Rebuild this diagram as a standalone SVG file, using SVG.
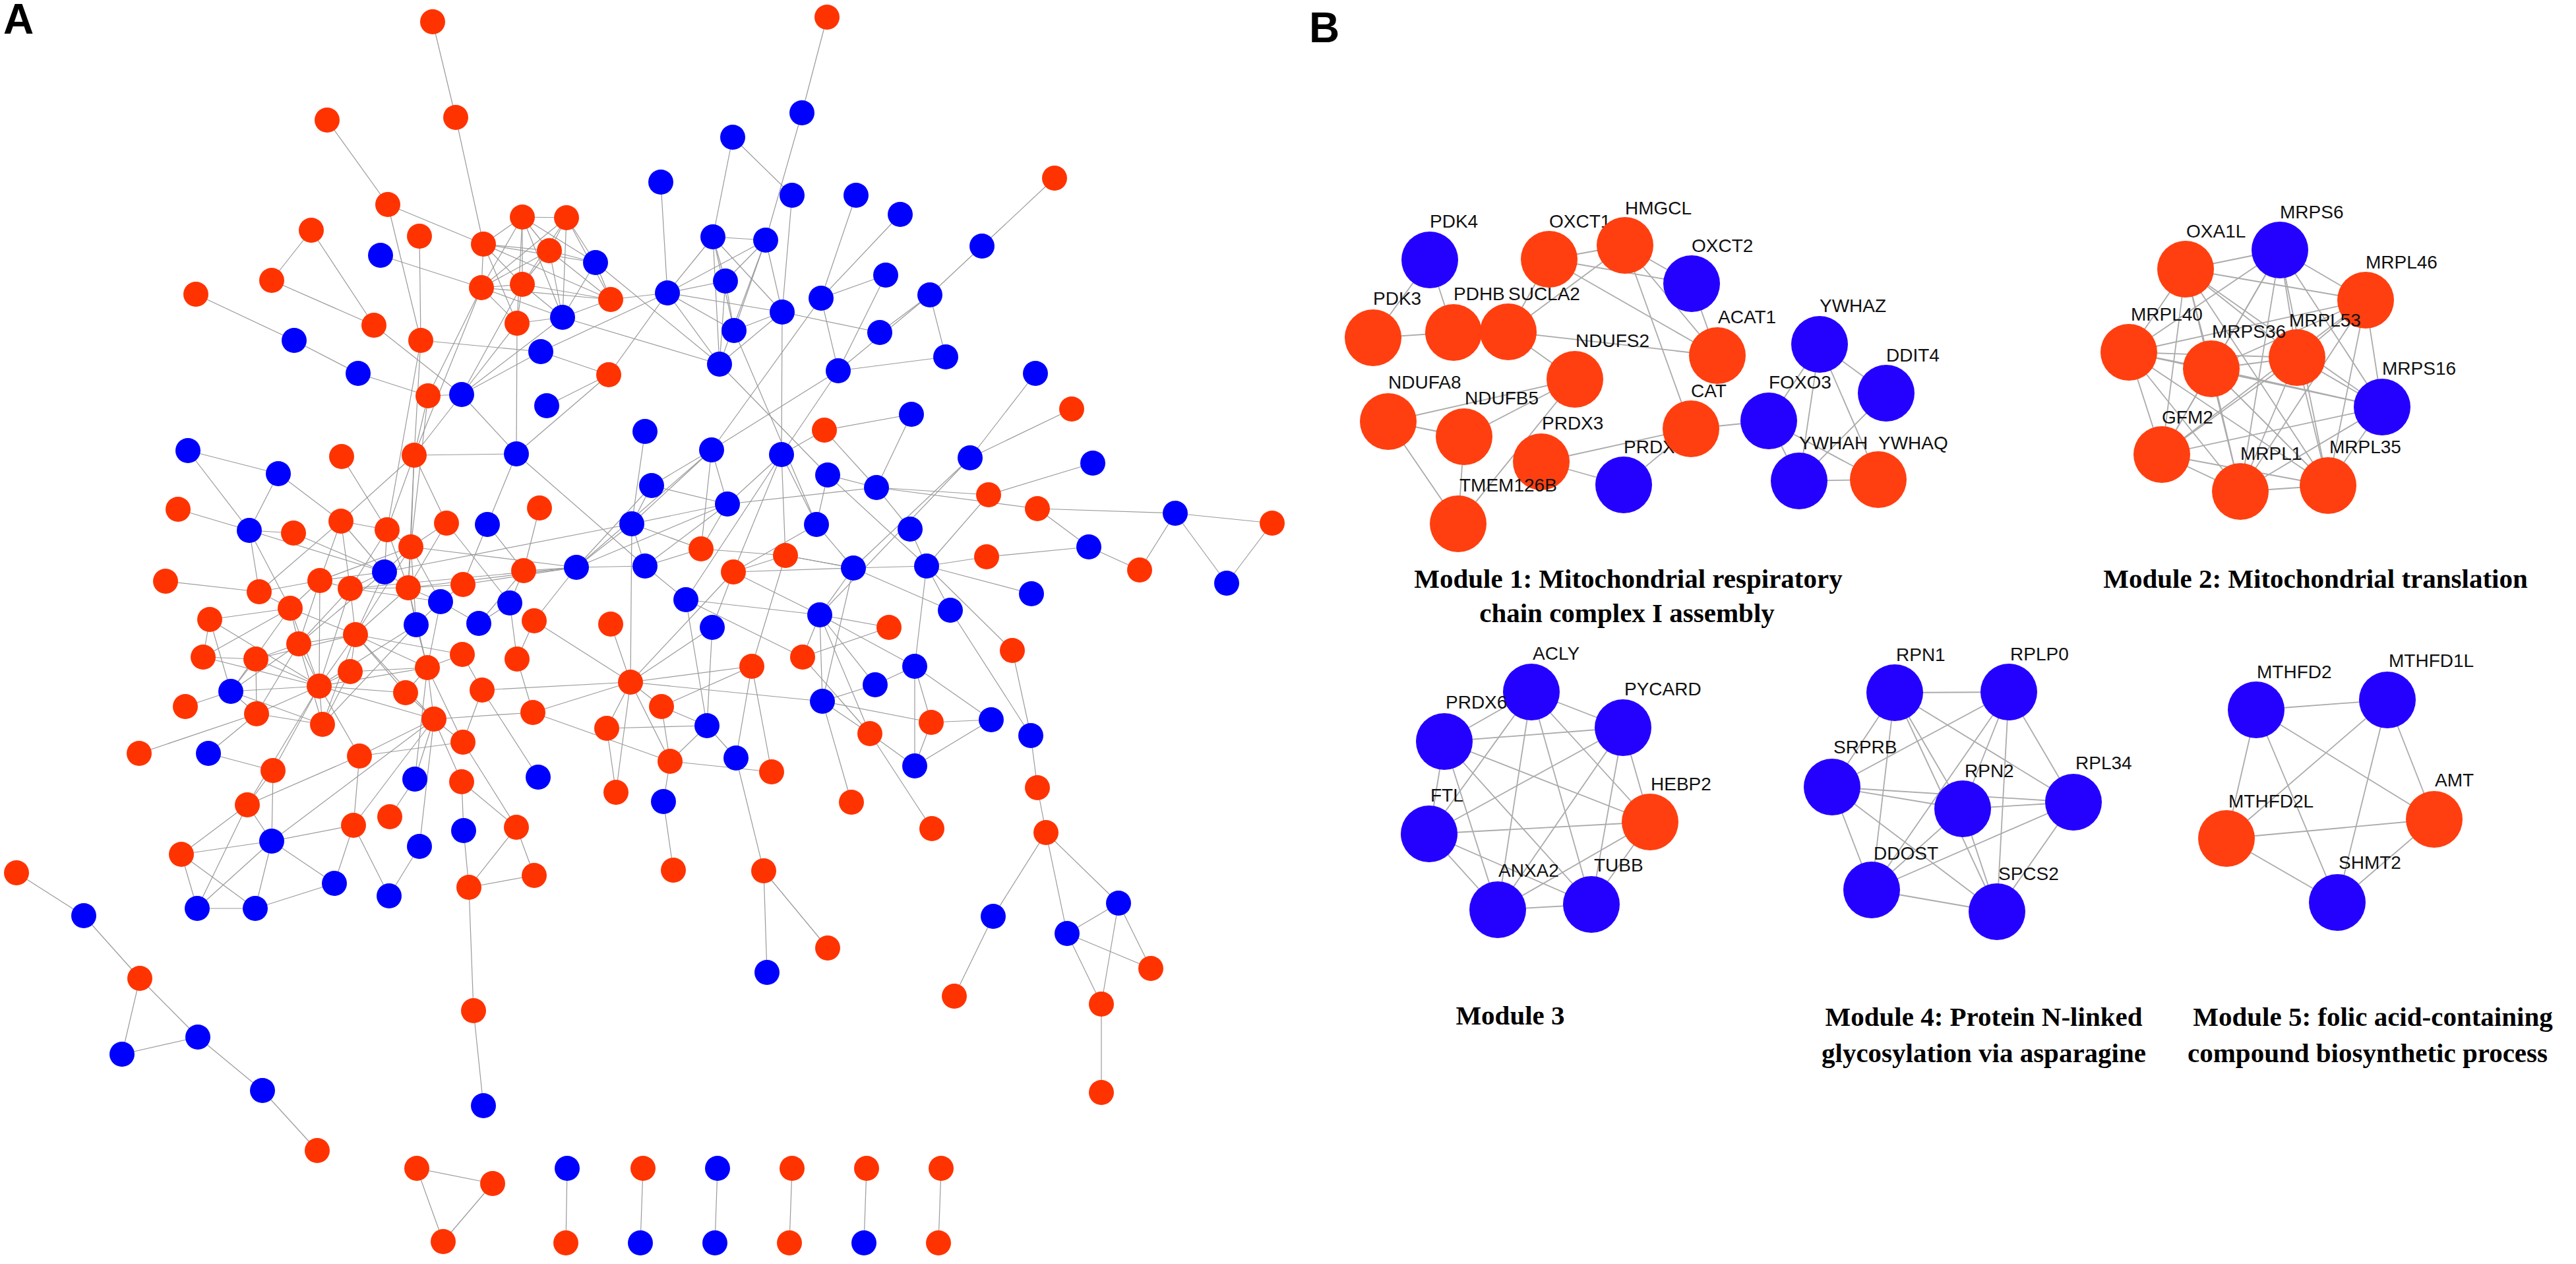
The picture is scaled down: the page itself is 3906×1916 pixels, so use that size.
<svg xmlns="http://www.w3.org/2000/svg" width="3906" height="1916" viewBox="0 0 3906 1916">
<style>
.e line{stroke:#9a9a9a;stroke-width:1.2}
.eb line{stroke:#ababab;stroke-width:1.8}
.r{fill:#FF3300}
.b{fill:#0000FF}
.rb{fill:#FF3F10}
.bb{fill:#2400FF}
.lb{font-family:"Liberation Sans",Arial,sans-serif;font-size:28px;fill:#111}
.cap{font-family:"Liberation Serif","Times New Roman",serif;font-weight:bold;font-size:41px;fill:#000;text-anchor:middle}
.pl{font-family:"Liberation Sans",Arial,sans-serif;font-weight:bold;font-size:64px;fill:#000}
</style>
<rect width="3906" height="1916" fill="#fff"/>
<text class="pl" x="5" y="51">A</text>
<text class="pl" x="1985" y="64">B</text>
<g id="connectors-A" class="e">
<line x1="656" y1="33" x2="691" y2="178"/><line x1="691" y1="178" x2="733" y2="370"/><line x1="496" y1="182" x2="588" y2="310"/><line x1="588" y1="310" x2="733" y2="370"/><line x1="588" y1="310" x2="638" y2="516"/><line x1="472" y1="349" x2="412" y2="425"/><line x1="472" y1="349" x2="567" y2="493"/><line x1="412" y1="425" x2="567" y2="493"/><line x1="636" y1="358" x2="638" y2="516"/><line x1="577" y1="387" x2="730" y2="436"/><line x1="297" y1="446" x2="446" y2="516"/><line x1="446" y1="516" x2="543" y2="566"/><line x1="543" y1="566" x2="649" y2="600"/><line x1="567" y1="493" x2="700" y2="598"/><line x1="638" y1="516" x2="820" y2="533"/><line x1="638" y1="516" x2="628" y2="690"/><line x1="649" y1="600" x2="628" y2="690"/><line x1="649" y1="600" x2="730" y2="436"/><line x1="649" y1="600" x2="700" y2="598"/><line x1="700" y1="598" x2="628" y2="690"/><line x1="700" y1="598" x2="783" y2="688"/><line x1="700" y1="598" x2="820" y2="533"/><line x1="700" y1="598" x2="853" y2="481"/><line x1="285" y1="683" x2="422" y2="718"/><line x1="285" y1="683" x2="378" y2="804"/>
<line x1="1254" y1="26" x2="1216" y2="171"/><line x1="1216" y1="171" x2="1161" y2="364"/><line x1="1111" y1="208" x2="1201" y2="296"/><line x1="1111" y1="208" x2="1081" y2="359"/><line x1="1002" y1="276" x2="1012" y2="444"/><line x1="1201" y1="296" x2="1186" y2="473"/><line x1="1298" y1="296" x2="1245" y2="452"/><line x1="1081" y1="359" x2="1161" y2="364"/><line x1="1081" y1="359" x2="1100" y2="426"/><line x1="1081" y1="359" x2="1113" y2="501"/><line x1="1081" y1="359" x2="1012" y2="444"/><line x1="1081" y1="359" x2="1186" y2="473"/><line x1="1081" y1="359" x2="1091" y2="552"/><line x1="1161" y1="364" x2="1012" y2="444"/><line x1="1161" y1="364" x2="1100" y2="426"/><line x1="1161" y1="364" x2="1186" y2="473"/><line x1="1161" y1="364" x2="1113" y2="501"/><line x1="1161" y1="364" x2="1091" y2="552"/><line x1="1100" y1="426" x2="1012" y2="444"/><line x1="1100" y1="426" x2="1113" y2="501"/><line x1="1100" y1="426" x2="1091" y2="552"/><line x1="1012" y1="444" x2="1186" y2="473"/><line x1="1012" y1="444" x2="1113" y2="501"/><line x1="1012" y1="444" x2="1091" y2="552"/><line x1="1012" y1="444" x2="820" y2="533"/><line x1="1012" y1="444" x2="923" y2="568"/><line x1="1186" y1="473" x2="1334" y2="504"/><line x1="1186" y1="473" x2="1113" y2="501"/><line x1="1186" y1="473" x2="1091" y2="552"/><line x1="1186" y1="473" x2="1185" y2="689"/><line x1="1245" y1="452" x2="1271" y2="562"/><line x1="1245" y1="452" x2="1365" y2="325"/><line x1="1245" y1="452" x2="1343" y2="417"/><line x1="1245" y1="452" x2="1079" y2="682"/><line x1="1091" y1="552" x2="1255" y2="720"/><line x1="1113" y1="501" x2="1238" y2="795"/><line x1="1271" y1="562" x2="1185" y2="689"/><line x1="1271" y1="562" x2="1079" y2="682"/><line x1="1250" y1="652" x2="1185" y2="689"/><line x1="1250" y1="652" x2="1382" y2="628"/><line x1="903" y1="398" x2="1091" y2="552"/><line x1="853" y1="481" x2="1091" y2="552"/><line x1="820" y1="533" x2="923" y2="568"/><line x1="784" y1="490" x2="783" y2="688"/><line x1="829" y1="615" x2="923" y2="568"/><line x1="783" y1="688" x2="923" y2="568"/><line x1="783" y1="688" x2="628" y2="690"/><line x1="730" y1="436" x2="628" y2="690"/><line x1="792" y1="431" x2="700" y2="598"/><line x1="784" y1="490" x2="700" y2="598"/>
<line x1="792" y1="329" x2="859" y2="330"/><line x1="792" y1="329" x2="733" y2="370"/><line x1="792" y1="329" x2="833" y2="380"/><line x1="792" y1="329" x2="903" y2="398"/><line x1="792" y1="329" x2="730" y2="436"/><line x1="792" y1="329" x2="792" y2="431"/><line x1="792" y1="329" x2="853" y2="481"/><line x1="792" y1="329" x2="784" y2="490"/><line x1="859" y1="330" x2="833" y2="380"/><line x1="859" y1="330" x2="903" y2="398"/><line x1="859" y1="330" x2="730" y2="436"/><line x1="859" y1="330" x2="792" y2="431"/><line x1="859" y1="330" x2="926" y2="454"/><line x1="859" y1="330" x2="853" y2="481"/><line x1="733" y1="370" x2="833" y2="380"/><line x1="733" y1="370" x2="903" y2="398"/><line x1="733" y1="370" x2="730" y2="436"/><line x1="733" y1="370" x2="792" y2="431"/><line x1="733" y1="370" x2="926" y2="454"/><line x1="733" y1="370" x2="784" y2="490"/><line x1="833" y1="380" x2="903" y2="398"/><line x1="833" y1="380" x2="730" y2="436"/><line x1="833" y1="380" x2="792" y2="431"/><line x1="833" y1="380" x2="926" y2="454"/><line x1="833" y1="380" x2="853" y2="481"/><line x1="903" y1="398" x2="926" y2="454"/><line x1="903" y1="398" x2="853" y2="481"/><line x1="730" y1="436" x2="792" y2="431"/><line x1="730" y1="436" x2="926" y2="454"/><line x1="730" y1="436" x2="853" y2="481"/><line x1="730" y1="436" x2="784" y2="490"/><line x1="792" y1="431" x2="926" y2="454"/><line x1="792" y1="431" x2="853" y2="481"/><line x1="792" y1="431" x2="784" y2="490"/><line x1="926" y1="454" x2="853" y2="481"/><line x1="853" y1="481" x2="784" y2="490"/><line x1="926" y1="454" x2="1012" y2="444"/>
<line x1="1599" y1="270" x2="1489" y2="373"/><line x1="1489" y1="373" x2="1410" y2="447"/><line x1="1410" y1="447" x2="1271" y2="562"/><line x1="1410" y1="447" x2="1334" y2="504"/><line x1="1410" y1="447" x2="1434" y2="541"/><line x1="1271" y1="562" x2="1434" y2="541"/><line x1="1343" y1="417" x2="1271" y2="562"/><line x1="1570" y1="566" x2="1471" y2="694"/><line x1="1625" y1="620" x2="1471" y2="694"/><line x1="1382" y1="628" x2="1329" y2="739"/><line x1="1250" y1="652" x2="1329" y2="739"/><line x1="1255" y1="720" x2="1329" y2="739"/><line x1="1255" y1="720" x2="1405" y2="858"/><line x1="1329" y1="739" x2="1499" y2="750"/><line x1="1329" y1="739" x2="1573" y2="771"/><line x1="1329" y1="739" x2="1103" y2="764"/><line x1="1329" y1="739" x2="1380" y2="802"/><line x1="1499" y1="750" x2="1657" y2="702"/><line x1="1499" y1="750" x2="1405" y2="858"/><line x1="1573" y1="771" x2="1782" y2="778"/><line x1="1573" y1="771" x2="1651" y2="829"/><line x1="1782" y1="778" x2="1929" y2="793"/><line x1="1782" y1="778" x2="1728" y2="864"/><line x1="1782" y1="778" x2="1860" y2="884"/><line x1="1929" y1="793" x2="1860" y2="884"/><line x1="1651" y1="829" x2="1728" y2="864"/><line x1="1651" y1="829" x2="1496" y2="844"/><line x1="1496" y1="844" x2="1405" y2="858"/><line x1="1380" y1="802" x2="1405" y2="858"/><line x1="1294" y1="861" x2="1405" y2="858"/><line x1="1294" y1="861" x2="1441" y2="925"/><line x1="1294" y1="861" x2="1191" y2="842"/><line x1="1405" y1="858" x2="1564" y2="900"/><line x1="1405" y1="858" x2="1441" y2="925"/><line x1="1405" y1="858" x2="1387" y2="1010"/><line x1="1405" y1="858" x2="1535" y2="986"/><line x1="1441" y1="925" x2="1563" y2="1115"/><line x1="1535" y1="986" x2="1563" y2="1115"/><line x1="1563" y1="1115" x2="1573" y2="1194"/><line x1="1573" y1="1194" x2="1586" y2="1262"/><line x1="1243" y1="932" x2="1348" y2="951"/><line x1="1243" y1="932" x2="1387" y2="1010"/><line x1="1243" y1="932" x2="1327" y2="1038"/><line x1="1243" y1="932" x2="1319" y2="1112"/><line x1="1348" y1="951" x2="1217" y2="996"/><line x1="1387" y1="1010" x2="1327" y2="1038"/><line x1="1387" y1="1010" x2="1412" y2="1095"/><line x1="1387" y1="1010" x2="1387" y2="1161"/><line x1="1387" y1="1010" x2="1503" y2="1091"/><line x1="1327" y1="1038" x2="1247" y2="1063"/><line x1="1247" y1="1063" x2="1412" y2="1095"/><line x1="1247" y1="1063" x2="1319" y2="1112"/><line x1="1247" y1="1063" x2="1291" y2="1216"/><line x1="1412" y1="1095" x2="1503" y2="1091"/><line x1="1412" y1="1095" x2="1387" y2="1161"/><line x1="1503" y1="1091" x2="1387" y2="1161"/><line x1="1319" y1="1112" x2="1387" y2="1161"/><line x1="1319" y1="1112" x2="1413" y2="1256"/><line x1="1217" y1="996" x2="1319" y2="1112"/><line x1="1471" y1="694" x2="1294" y2="861"/><line x1="1471" y1="694" x2="1243" y2="932"/><line x1="1238" y1="795" x2="1294" y2="861"/>
<line x1="783" y1="688" x2="978" y2="858"/><line x1="783" y1="688" x2="739" y2="795"/><line x1="628" y1="690" x2="677" y2="793"/><line x1="628" y1="690" x2="623" y2="829"/><line x1="978" y1="654" x2="958" y2="794"/><line x1="1079" y1="682" x2="988" y2="736"/><line x1="1079" y1="682" x2="958" y2="794"/><line x1="1079" y1="682" x2="1103" y2="764"/><line x1="1079" y1="682" x2="1063" y2="832"/><line x1="1079" y1="682" x2="874" y2="860"/><line x1="1185" y1="689" x2="1191" y2="842"/><line x1="1185" y1="689" x2="1103" y2="764"/><line x1="1185" y1="689" x2="1112" y2="867"/><line x1="1185" y1="689" x2="1040" y2="909"/><line x1="1185" y1="689" x2="1238" y2="795"/><line x1="1255" y1="720" x2="1238" y2="795"/><line x1="988" y1="736" x2="1103" y2="764"/><line x1="988" y1="736" x2="958" y2="794"/><line x1="988" y1="736" x2="874" y2="860"/><line x1="1103" y1="764" x2="958" y2="794"/><line x1="1103" y1="764" x2="1063" y2="832"/><line x1="1103" y1="764" x2="874" y2="860"/><line x1="1103" y1="764" x2="978" y2="858"/><line x1="958" y1="794" x2="978" y2="858"/><line x1="958" y1="794" x2="874" y2="860"/><line x1="958" y1="794" x2="1063" y2="832"/><line x1="958" y1="794" x2="583" y2="867"/><line x1="818" y1="770" x2="794" y2="865"/><line x1="739" y1="795" x2="702" y2="886"/><line x1="739" y1="795" x2="794" y2="865"/><line x1="677" y1="793" x2="773" y2="914"/><line x1="874" y1="860" x2="978" y2="858"/><line x1="874" y1="860" x2="794" y2="865"/><line x1="874" y1="860" x2="619" y2="891"/><line x1="874" y1="860" x2="702" y2="886"/><line x1="874" y1="860" x2="531" y2="892"/><line x1="874" y1="860" x2="623" y2="829"/><line x1="874" y1="860" x2="810" y2="941"/><line x1="978" y1="858" x2="1063" y2="832"/><line x1="978" y1="858" x2="1040" y2="909"/><line x1="958" y1="794" x2="956" y2="1034"/><line x1="1063" y1="832" x2="1191" y2="842"/><line x1="1112" y1="867" x2="1191" y2="842"/><line x1="1112" y1="867" x2="1294" y2="861"/><line x1="1112" y1="867" x2="1243" y2="932"/><line x1="1112" y1="867" x2="1080" y2="951"/><line x1="1112" y1="867" x2="956" y2="1034"/><line x1="1191" y1="842" x2="1294" y2="861"/><line x1="1191" y1="842" x2="1140" y2="1010"/><line x1="1238" y1="795" x2="1112" y2="867"/><line x1="1294" y1="861" x2="1243" y2="932"/><line x1="1294" y1="861" x2="1247" y2="1063"/><line x1="1243" y1="932" x2="1217" y2="996"/><line x1="1040" y1="909" x2="1243" y2="932"/><line x1="1243" y1="932" x2="1247" y2="1063"/><line x1="1040" y1="909" x2="1072" y2="1100"/><line x1="1040" y1="909" x2="1217" y2="996"/><line x1="1080" y1="951" x2="1072" y2="1100"/><line x1="1080" y1="951" x2="956" y2="1034"/><line x1="956" y1="1034" x2="810" y2="941"/><line x1="956" y1="1034" x2="731" y2="1046"/><line x1="956" y1="1034" x2="1003" y2="1071"/><line x1="956" y1="1034" x2="920" y2="1104"/><line x1="956" y1="1034" x2="1016" y2="1154"/><line x1="956" y1="1034" x2="934" y2="1201"/><line x1="956" y1="1034" x2="926" y2="946"/><line x1="956" y1="1034" x2="1247" y2="1063"/><line x1="956" y1="1034" x2="1140" y2="1010"/><line x1="1003" y1="1071" x2="1072" y2="1100"/><line x1="1003" y1="1071" x2="1140" y2="1010"/><line x1="1003" y1="1071" x2="1016" y2="1154"/><line x1="920" y1="1104" x2="1072" y2="1100"/><line x1="920" y1="1104" x2="934" y2="1201"/><line x1="1072" y1="1100" x2="1016" y2="1154"/><line x1="1072" y1="1100" x2="1116" y2="1149"/><line x1="1016" y1="1154" x2="1170" y2="1170"/><line x1="1016" y1="1154" x2="1006" y2="1215"/><line x1="1016" y1="1154" x2="808" y2="1080"/><line x1="1116" y1="1149" x2="1140" y2="1010"/><line x1="1170" y1="1170" x2="1140" y2="1010"/><line x1="1006" y1="1215" x2="1021" y2="1319"/><line x1="808" y1="1080" x2="956" y2="1034"/><line x1="808" y1="1080" x2="784" y2="999"/><line x1="808" y1="1080" x2="658" y2="1090"/><line x1="784" y1="999" x2="773" y2="914"/><line x1="784" y1="999" x2="810" y2="941"/><line x1="816" y1="1178" x2="731" y2="1046"/><line x1="783" y1="1254" x2="700" y2="1185"/><line x1="783" y1="1254" x2="702" y2="1125"/><line x1="703" y1="1259" x2="700" y2="1185"/><line x1="731" y1="1046" x2="701" y2="992"/><line x1="731" y1="1046" x2="702" y2="1125"/><line x1="794" y1="865" x2="773" y2="914"/><line x1="726" y1="945" x2="773" y2="914"/><line x1="726" y1="945" x2="668" y2="912"/><line x1="726" y1="945" x2="794" y2="865"/>
<line x1="422" y1="718" x2="378" y2="804"/><line x1="422" y1="718" x2="517" y2="790"/><line x1="270" y1="772" x2="378" y2="804"/><line x1="378" y1="804" x2="445" y2="808"/><line x1="378" y1="804" x2="583" y2="867"/><line x1="378" y1="804" x2="440" y2="922"/><line x1="445" y1="808" x2="583" y2="867"/><line x1="518" y1="692" x2="587" y2="803"/><line x1="628" y1="690" x2="517" y2="790"/><line x1="628" y1="690" x2="587" y2="803"/><line x1="628" y1="690" x2="619" y2="891"/><line x1="649" y1="600" x2="623" y2="829"/><line x1="638" y1="516" x2="587" y2="803"/><line x1="517" y1="790" x2="587" y2="803"/><line x1="517" y1="790" x2="485" y2="880"/><line x1="517" y1="790" x2="531" y2="892"/><line x1="517" y1="790" x2="583" y2="867"/><line x1="517" y1="790" x2="393" y2="897"/><line x1="587" y1="803" x2="623" y2="829"/><line x1="587" y1="803" x2="583" y2="867"/><line x1="587" y1="803" x2="531" y2="892"/><line x1="587" y1="803" x2="619" y2="891"/><line x1="677" y1="793" x2="623" y2="829"/><line x1="677" y1="793" x2="619" y2="891"/><line x1="623" y1="829" x2="583" y2="867"/><line x1="623" y1="829" x2="619" y2="891"/><line x1="623" y1="829" x2="631" y2="947"/><line x1="623" y1="829" x2="668" y2="912"/><line x1="623" y1="829" x2="539" y2="962"/><line x1="623" y1="829" x2="485" y2="880"/><line x1="583" y1="867" x2="619" y2="891"/><line x1="583" y1="867" x2="531" y2="892"/><line x1="583" y1="867" x2="485" y2="880"/><line x1="583" y1="867" x2="453" y2="976"/><line x1="583" y1="867" x2="539" y2="962"/><line x1="251" y1="881" x2="393" y2="897"/><line x1="393" y1="897" x2="485" y2="880"/><line x1="393" y1="897" x2="440" y2="922"/><line x1="378" y1="804" x2="393" y2="897"/><line x1="485" y1="880" x2="531" y2="892"/><line x1="485" y1="880" x2="440" y2="922"/><line x1="485" y1="880" x2="484" y2="1040"/><line x1="485" y1="880" x2="453" y2="976"/><line x1="531" y1="892" x2="619" y2="891"/><line x1="531" y1="892" x2="539" y2="962"/><line x1="531" y1="892" x2="453" y2="976"/><line x1="531" y1="892" x2="484" y2="1040"/><line x1="531" y1="892" x2="668" y2="912"/><line x1="619" y1="891" x2="668" y2="912"/><line x1="619" y1="891" x2="631" y2="947"/><line x1="619" y1="891" x2="702" y2="886"/><line x1="619" y1="891" x2="539" y2="962"/><line x1="619" y1="891" x2="648" y2="1012"/><line x1="668" y1="912" x2="631" y2="947"/><line x1="668" y1="912" x2="648" y2="1012"/><line x1="668" y1="912" x2="702" y2="886"/><line x1="440" y1="922" x2="318" y2="939"/><line x1="440" y1="922" x2="453" y2="976"/><line x1="440" y1="922" x2="350" y2="1048"/><line x1="440" y1="922" x2="308" y2="996"/><line x1="440" y1="922" x2="539" y2="962"/><line x1="440" y1="922" x2="484" y2="1040"/><line x1="318" y1="939" x2="350" y2="1048"/><line x1="318" y1="939" x2="484" y2="1040"/><line x1="631" y1="947" x2="484" y2="1040"/><line x1="631" y1="947" x2="489" y2="1098"/><line x1="453" y1="976" x2="539" y2="962"/><line x1="453" y1="976" x2="388" y2="999"/><line x1="453" y1="976" x2="484" y2="1040"/><line x1="453" y1="976" x2="350" y2="1048"/><line x1="453" y1="976" x2="389" y2="1082"/><line x1="453" y1="976" x2="489" y2="1098"/><line x1="539" y1="962" x2="531" y2="1018"/><line x1="539" y1="962" x2="484" y2="1040"/><line x1="539" y1="962" x2="615" y2="1050"/><line x1="539" y1="962" x2="648" y2="1012"/><line x1="539" y1="962" x2="658" y2="1090"/><line x1="539" y1="962" x2="489" y2="1098"/><line x1="539" y1="962" x2="701" y2="992"/><line x1="308" y1="996" x2="388" y2="999"/><line x1="308" y1="996" x2="484" y2="1040"/><line x1="308" y1="996" x2="318" y2="939"/><line x1="388" y1="999" x2="350" y2="1048"/><line x1="388" y1="999" x2="484" y2="1040"/><line x1="388" y1="999" x2="389" y2="1082"/><line x1="539" y1="962" x2="388" y2="999"/><line x1="701" y1="992" x2="648" y2="1012"/><line x1="648" y1="1012" x2="531" y2="1018"/><line x1="648" y1="1012" x2="484" y2="1040"/><line x1="648" y1="1012" x2="615" y2="1050"/><line x1="648" y1="1012" x2="658" y2="1090"/><line x1="648" y1="1012" x2="631" y2="947"/><line x1="648" y1="1012" x2="629" y2="1181"/><line x1="648" y1="1012" x2="702" y2="1125"/><line x1="531" y1="1018" x2="484" y2="1040"/><line x1="531" y1="1018" x2="489" y2="1098"/><line x1="350" y1="1048" x2="484" y2="1040"/><line x1="350" y1="1048" x2="281" y2="1071"/><line x1="350" y1="1048" x2="389" y2="1082"/><line x1="350" y1="1048" x2="489" y2="1098"/><line x1="484" y1="1040" x2="615" y2="1050"/><line x1="484" y1="1040" x2="658" y2="1090"/><line x1="484" y1="1040" x2="389" y2="1082"/><line x1="484" y1="1040" x2="414" y2="1168"/><line x1="484" y1="1040" x2="545" y2="1146"/><line x1="484" y1="1040" x2="375" y2="1220"/><line x1="484" y1="1040" x2="489" y2="1098"/><line x1="615" y1="1050" x2="658" y2="1090"/><line x1="389" y1="1082" x2="489" y2="1098"/><line x1="389" y1="1082" x2="316" y2="1142"/><line x1="389" y1="1082" x2="211" y2="1142"/><line x1="658" y1="1090" x2="545" y2="1146"/><line x1="658" y1="1090" x2="629" y2="1181"/><line x1="658" y1="1090" x2="700" y2="1185"/><line x1="658" y1="1090" x2="536" y2="1251"/><line x1="658" y1="1090" x2="702" y2="1125"/><line x1="658" y1="1090" x2="412" y2="1275"/><line x1="658" y1="1090" x2="636" y2="1283"/><line x1="316" y1="1142" x2="414" y2="1168"/><line x1="545" y1="1146" x2="375" y2="1220"/><line x1="545" y1="1146" x2="536" y2="1251"/><line x1="545" y1="1146" x2="702" y2="1125"/><line x1="414" y1="1168" x2="375" y2="1220"/><line x1="414" y1="1168" x2="412" y2="1275"/><line x1="629" y1="1181" x2="591" y2="1238"/><line x1="375" y1="1220" x2="412" y2="1275"/><line x1="375" y1="1220" x2="275" y2="1295"/><line x1="375" y1="1220" x2="299" y2="1377"/><line x1="536" y1="1251" x2="412" y2="1275"/><line x1="536" y1="1251" x2="590" y2="1358"/><line x1="412" y1="1275" x2="275" y2="1295"/>
<line x1="275" y1="1295" x2="299" y2="1377"/><line x1="275" y1="1295" x2="387" y2="1377"/><line x1="412" y1="1275" x2="299" y2="1377"/><line x1="412" y1="1275" x2="387" y2="1377"/><line x1="412" y1="1275" x2="507" y2="1339"/><line x1="299" y1="1377" x2="387" y2="1377"/><line x1="387" y1="1377" x2="507" y2="1339"/><line x1="507" y1="1339" x2="536" y2="1251"/><line x1="590" y1="1358" x2="636" y2="1283"/><line x1="711" y1="1345" x2="703" y2="1259"/><line x1="711" y1="1345" x2="810" y2="1327"/><line x1="711" y1="1345" x2="783" y2="1254"/><line x1="810" y1="1327" x2="783" y2="1254"/><line x1="711" y1="1345" x2="718" y2="1532"/><line x1="718" y1="1532" x2="733" y2="1676"/><line x1="1116" y1="1149" x2="1158" y2="1320"/><line x1="1158" y1="1320" x2="1163" y2="1474"/><line x1="1158" y1="1320" x2="1255" y2="1437"/><line x1="1586" y1="1262" x2="1506" y2="1389"/><line x1="1586" y1="1262" x2="1618" y2="1415"/><line x1="1586" y1="1262" x2="1696" y2="1369"/><line x1="1506" y1="1389" x2="1447" y2="1510"/><line x1="1618" y1="1415" x2="1696" y2="1369"/><line x1="1618" y1="1415" x2="1670" y2="1522"/><line x1="1618" y1="1415" x2="1745" y2="1468"/><line x1="1696" y1="1369" x2="1745" y2="1468"/><line x1="1696" y1="1369" x2="1670" y2="1522"/><line x1="1670" y1="1522" x2="1670" y2="1656"/><line x1="25" y1="1323" x2="127" y2="1388"/><line x1="127" y1="1388" x2="212" y2="1483"/><line x1="212" y1="1483" x2="185" y2="1598"/><line x1="212" y1="1483" x2="300" y2="1572"/><line x1="185" y1="1598" x2="300" y2="1572"/><line x1="300" y1="1572" x2="398" y2="1653"/><line x1="398" y1="1653" x2="481" y2="1744"/><line x1="632" y1="1771" x2="747" y2="1794"/><line x1="632" y1="1771" x2="672" y2="1882"/><line x1="747" y1="1794" x2="672" y2="1882"/><line x1="860" y1="1771" x2="858" y2="1884"/><line x1="975" y1="1771" x2="971" y2="1884"/><line x1="1088" y1="1771" x2="1084" y2="1884"/><line x1="1201" y1="1771" x2="1197" y2="1884"/><line x1="1314" y1="1771" x2="1310" y2="1884"/><line x1="1427" y1="1771" x2="1423" y2="1884"/>
</g>
<g id="nodes-A">
<g id="A-a1"><circle class="r" cx="656" cy="33" r="19"/></g><g id="A-a2"><circle class="r" cx="691" cy="178" r="19"/></g><g id="A-a3"><circle class="r" cx="496" cy="182" r="19"/></g><g id="A-a4"><circle class="r" cx="588" cy="310" r="19"/></g><g id="A-a5"><circle class="r" cx="472" cy="349" r="19"/></g><g id="A-a6"><circle class="r" cx="636" cy="358" r="19"/></g><g id="A-a7"><circle class="b" cx="577" cy="387" r="19"/></g><g id="A-a8"><circle class="r" cx="412" cy="425" r="19"/></g><g id="A-a9"><circle class="r" cx="297" cy="446" r="19"/></g><g id="A-a10"><circle class="r" cx="567" cy="493" r="19"/></g><g id="A-a11"><circle class="r" cx="638" cy="516" r="19"/></g><g id="A-a12"><circle class="b" cx="446" cy="516" r="19"/></g><g id="A-a13"><circle class="b" cx="543" cy="566" r="19"/></g><g id="A-a14"><circle class="r" cx="649" cy="600" r="19"/></g><g id="A-a15"><circle class="b" cx="700" cy="598" r="19"/></g><g id="A-a16"><circle class="b" cx="285" cy="683" r="19"/></g><g id="A-a17"><circle class="r" cx="518" cy="692" r="19"/></g><g id="A-a18"><circle class="r" cx="628" cy="690" r="19"/></g><g id="A-a19"><circle class="r" cx="792" cy="329" r="19"/></g><g id="A-a20"><circle class="r" cx="859" cy="330" r="19"/></g><g id="A-a21"><circle class="r" cx="733" cy="370" r="19"/></g><g id="A-a22"><circle class="r" cx="833" cy="380" r="19"/></g><g id="A-a23"><circle class="b" cx="903" cy="398" r="19"/></g><g id="A-a24"><circle class="r" cx="730" cy="436" r="19"/></g><g id="A-a25"><circle class="r" cx="792" cy="431" r="19"/></g><g id="A-a26"><circle class="r" cx="926" cy="454" r="19"/></g><g id="A-a27"><circle class="b" cx="853" cy="481" r="19"/></g><g id="A-a28"><circle class="r" cx="784" cy="490" r="19"/></g><g id="A-a29"><circle class="b" cx="820" cy="533" r="19"/></g><g id="A-a30"><circle class="r" cx="923" cy="568" r="19"/></g><g id="A-a31"><circle class="b" cx="829" cy="615" r="19"/></g><g id="A-a32"><circle class="b" cx="783" cy="688" r="19"/></g><g id="A-a33"><circle class="b" cx="978" cy="654" r="19"/></g><g id="A-a34"><circle class="r" cx="1254" cy="26" r="19"/></g><g id="A-a35"><circle class="b" cx="1216" cy="171" r="19"/></g><g id="A-a36"><circle class="b" cx="1111" cy="208" r="19"/></g><g id="A-a37"><circle class="b" cx="1002" cy="276" r="19"/></g><g id="A-a38"><circle class="b" cx="1201" cy="296" r="19"/></g><g id="A-a39"><circle class="b" cx="1298" cy="296" r="19"/></g><g id="A-a40"><circle class="b" cx="1081" cy="359" r="19"/></g><g id="A-a41"><circle class="b" cx="1161" cy="364" r="19"/></g><g id="A-a42"><circle class="b" cx="1100" cy="426" r="19"/></g><g id="A-a43"><circle class="b" cx="1012" cy="444" r="19"/></g><g id="A-a44"><circle class="b" cx="1245" cy="452" r="19"/></g><g id="A-a45"><circle class="b" cx="1186" cy="473" r="19"/></g><g id="A-a46"><circle class="b" cx="1113" cy="501" r="19"/></g><g id="A-a47"><circle class="b" cx="1091" cy="552" r="19"/></g><g id="A-a48"><circle class="b" cx="1271" cy="562" r="19"/></g><g id="A-a49"><circle class="r" cx="1250" cy="652" r="19"/></g><g id="A-a50"><circle class="b" cx="1079" cy="682" r="19"/></g><g id="A-a51"><circle class="b" cx="1185" cy="689" r="19"/></g><g id="A-a52"><circle class="b" cx="1365" cy="325" r="19"/></g><g id="A-a53"><circle class="r" cx="1599" cy="270" r="19"/></g><g id="A-a54"><circle class="b" cx="1489" cy="373" r="19"/></g><g id="A-a55"><circle class="b" cx="1343" cy="417" r="19"/></g><g id="A-a56"><circle class="b" cx="1410" cy="447" r="19"/></g><g id="A-a57"><circle class="b" cx="1334" cy="504" r="19"/></g><g id="A-a58"><circle class="b" cx="1434" cy="541" r="19"/></g><g id="A-a59"><circle class="b" cx="1570" cy="566" r="19"/></g><g id="A-a60"><circle class="r" cx="1625" cy="620" r="19"/></g><g id="A-a61"><circle class="b" cx="1382" cy="628" r="19"/></g><g id="A-a62"><circle class="b" cx="1471" cy="694" r="19"/></g><g id="A-a63"><circle class="b" cx="1657" cy="702" r="19"/></g>
<g id="A-b1"><circle class="b" cx="422" cy="718" r="19"/></g><g id="A-b2"><circle class="r" cx="270" cy="772" r="19"/></g><g id="A-b3"><circle class="b" cx="378" cy="804" r="19"/></g><g id="A-b4"><circle class="r" cx="445" cy="808" r="19"/></g><g id="A-b5"><circle class="r" cx="517" cy="790" r="19"/></g><g id="A-b6"><circle class="r" cx="587" cy="803" r="19"/></g><g id="A-b7"><circle class="r" cx="677" cy="793" r="19"/></g><g id="A-b8"><circle class="r" cx="623" cy="829" r="19"/></g><g id="A-b9"><circle class="b" cx="583" cy="867" r="19"/></g><g id="A-b10"><circle class="r" cx="251" cy="881" r="19"/></g><g id="A-b11"><circle class="r" cx="393" cy="897" r="19"/></g><g id="A-b12"><circle class="r" cx="485" cy="880" r="19"/></g><g id="A-b13"><circle class="r" cx="531" cy="892" r="19"/></g><g id="A-b14"><circle class="r" cx="619" cy="891" r="19"/></g><g id="A-b15"><circle class="r" cx="702" cy="886" r="19"/></g><g id="A-b16"><circle class="b" cx="668" cy="912" r="19"/></g><g id="A-b17"><circle class="r" cx="440" cy="922" r="19"/></g><g id="A-b18"><circle class="r" cx="318" cy="939" r="19"/></g><g id="A-b19"><circle class="b" cx="631" cy="947" r="19"/></g><g id="A-b20"><circle class="r" cx="453" cy="976" r="19"/></g><g id="A-b21"><circle class="r" cx="539" cy="962" r="19"/></g><g id="A-b22"><circle class="r" cx="308" cy="996" r="19"/></g><g id="A-b23"><circle class="r" cx="388" cy="999" r="19"/></g><g id="A-b24"><circle class="r" cx="701" cy="992" r="19"/></g><g id="A-b25"><circle class="r" cx="648" cy="1012" r="19"/></g><g id="A-b26"><circle class="r" cx="531" cy="1018" r="19"/></g><g id="A-b27"><circle class="b" cx="350" cy="1048" r="19"/></g><g id="A-b28"><circle class="r" cx="484" cy="1040" r="19"/></g><g id="A-b29"><circle class="r" cx="615" cy="1050" r="19"/></g><g id="A-b30"><circle class="r" cx="281" cy="1071" r="19"/></g><g id="A-b31"><circle class="r" cx="389" cy="1082" r="19"/></g><g id="A-b32"><circle class="r" cx="489" cy="1098" r="19"/></g><g id="A-b33"><circle class="r" cx="658" cy="1090" r="19"/></g><g id="A-b34"><circle class="r" cx="702" cy="1125" r="19"/></g><g id="A-b35"><circle class="r" cx="211" cy="1142" r="19"/></g><g id="A-b36"><circle class="b" cx="316" cy="1142" r="19"/></g><g id="A-b37"><circle class="r" cx="545" cy="1146" r="19"/></g><g id="A-b38"><circle class="r" cx="414" cy="1168" r="19"/></g><g id="A-b39"><circle class="b" cx="629" cy="1181" r="19"/></g><g id="A-b40"><circle class="r" cx="700" cy="1185" r="19"/></g><g id="A-b41"><circle class="r" cx="375" cy="1220" r="19"/></g><g id="A-b42"><circle class="r" cx="591" cy="1238" r="19"/></g><g id="A-b43"><circle class="r" cx="536" cy="1251" r="19"/></g><g id="A-b44"><circle class="b" cx="412" cy="1275" r="19"/></g><g id="A-b45"><circle class="b" cx="703" cy="1259" r="19"/></g><g id="A-b46"><circle class="r" cx="275" cy="1295" r="19"/></g><g id="A-b47"><circle class="b" cx="636" cy="1283" r="19"/></g>
<g id="A-c1"><circle class="b" cx="1255" cy="720" r="19"/></g><g id="A-c2"><circle class="b" cx="988" cy="736" r="19"/></g><g id="A-c3"><circle class="b" cx="1103" cy="764" r="19"/></g><g id="A-c4"><circle class="r" cx="818" cy="770" r="19"/></g><g id="A-c5"><circle class="b" cx="739" cy="795" r="19"/></g><g id="A-c6"><circle class="b" cx="958" cy="794" r="19"/></g><g id="A-c7"><circle class="b" cx="1238" cy="795" r="19"/></g><g id="A-c8"><circle class="r" cx="1063" cy="832" r="19"/></g><g id="A-c9"><circle class="r" cx="1191" cy="842" r="19"/></g><g id="A-c10"><circle class="r" cx="1112" cy="867" r="19"/></g><g id="A-c11"><circle class="b" cx="874" cy="860" r="19"/></g><g id="A-c12"><circle class="b" cx="978" cy="858" r="19"/></g><g id="A-c13"><circle class="b" cx="1294" cy="861" r="19"/></g><g id="A-c14"><circle class="r" cx="794" cy="865" r="19"/></g><g id="A-c15"><circle class="b" cx="773" cy="914" r="19"/></g><g id="A-c16"><circle class="b" cx="1040" cy="909" r="19"/></g><g id="A-c17"><circle class="b" cx="1243" cy="932" r="19"/></g><g id="A-c18"><circle class="b" cx="726" cy="945" r="19"/></g><g id="A-c19"><circle class="r" cx="810" cy="941" r="19"/></g><g id="A-c20"><circle class="r" cx="926" cy="946" r="19"/></g><g id="A-c21"><circle class="b" cx="1080" cy="951" r="19"/></g><g id="A-c22"><circle class="r" cx="784" cy="999" r="19"/></g><g id="A-c23"><circle class="r" cx="1140" cy="1010" r="19"/></g><g id="A-c24"><circle class="r" cx="1217" cy="996" r="19"/></g><g id="A-c25"><circle class="r" cx="956" cy="1034" r="19"/></g><g id="A-c26"><circle class="r" cx="731" cy="1046" r="19"/></g><g id="A-c27"><circle class="b" cx="1247" cy="1063" r="19"/></g><g id="A-c28"><circle class="r" cx="1003" cy="1071" r="19"/></g><g id="A-c29"><circle class="r" cx="808" cy="1080" r="19"/></g><g id="A-c30"><circle class="r" cx="920" cy="1104" r="19"/></g><g id="A-c31"><circle class="b" cx="1072" cy="1100" r="19"/></g><g id="A-c32"><circle class="r" cx="1016" cy="1154" r="19"/></g><g id="A-c33"><circle class="b" cx="1116" cy="1149" r="19"/></g><g id="A-c34"><circle class="r" cx="1170" cy="1170" r="19"/></g><g id="A-c35"><circle class="b" cx="816" cy="1178" r="19"/></g><g id="A-c36"><circle class="r" cx="934" cy="1201" r="19"/></g><g id="A-c37"><circle class="b" cx="1006" cy="1215" r="19"/></g><g id="A-c38"><circle class="r" cx="1291" cy="1216" r="19"/></g><g id="A-c39"><circle class="r" cx="783" cy="1254" r="19"/></g>
<g id="A-d4"><circle class="b" cx="1329" cy="739" r="19"/></g><g id="A-d5"><circle class="r" cx="1499" cy="750" r="19"/></g><g id="A-d6"><circle class="r" cx="1573" cy="771" r="19"/></g><g id="A-d7"><circle class="b" cx="1782" cy="778" r="19"/></g><g id="A-d8"><circle class="r" cx="1929" cy="793" r="19"/></g><g id="A-d9"><circle class="b" cx="1380" cy="802" r="19"/></g><g id="A-d10"><circle class="b" cx="1651" cy="829" r="19"/></g><g id="A-d11"><circle class="r" cx="1496" cy="844" r="19"/></g><g id="A-d12"><circle class="b" cx="1405" cy="858" r="19"/></g><g id="A-d13"><circle class="r" cx="1728" cy="864" r="19"/></g><g id="A-d14"><circle class="b" cx="1860" cy="884" r="19"/></g><g id="A-d15"><circle class="b" cx="1564" cy="900" r="19"/></g><g id="A-d16"><circle class="b" cx="1441" cy="925" r="19"/></g><g id="A-d17"><circle class="r" cx="1348" cy="951" r="19"/></g><g id="A-d18"><circle class="r" cx="1535" cy="986" r="19"/></g><g id="A-d19"><circle class="b" cx="1387" cy="1010" r="19"/></g><g id="A-d20"><circle class="b" cx="1327" cy="1038" r="19"/></g><g id="A-d21"><circle class="b" cx="1503" cy="1091" r="19"/></g><g id="A-d22"><circle class="r" cx="1412" cy="1095" r="19"/></g><g id="A-d23"><circle class="r" cx="1319" cy="1112" r="19"/></g><g id="A-d24"><circle class="b" cx="1563" cy="1115" r="19"/></g><g id="A-d25"><circle class="b" cx="1387" cy="1161" r="19"/></g><g id="A-d26"><circle class="r" cx="1573" cy="1194" r="19"/></g><g id="A-d28"><circle class="r" cx="1413" cy="1256" r="19"/></g><g id="A-d29"><circle class="r" cx="1586" cy="1262" r="19"/></g>
<g id="A-e1"><circle class="r" cx="25" cy="1323" r="19"/></g><g id="A-e2"><circle class="b" cx="127" cy="1388" r="19"/></g><g id="A-e3"><circle class="b" cx="299" cy="1377" r="19"/></g><g id="A-e4"><circle class="b" cx="387" cy="1377" r="19"/></g><g id="A-e5"><circle class="b" cx="507" cy="1339" r="19"/></g><g id="A-e6"><circle class="b" cx="590" cy="1358" r="19"/></g><g id="A-e7"><circle class="r" cx="711" cy="1345" r="19"/></g><g id="A-e8"><circle class="r" cx="810" cy="1327" r="19"/></g><g id="A-e9"><circle class="r" cx="1021" cy="1319" r="19"/></g><g id="A-e10"><circle class="r" cx="1158" cy="1320" r="19"/></g><g id="A-e11"><circle class="r" cx="212" cy="1483" r="19"/></g><g id="A-e12"><circle class="r" cx="1255" cy="1437" r="19"/></g><g id="A-e13"><circle class="b" cx="1163" cy="1474" r="19"/></g><g id="A-e14"><circle class="b" cx="1506" cy="1389" r="19"/></g><g id="A-e15"><circle class="b" cx="1696" cy="1369" r="19"/></g><g id="A-e16"><circle class="b" cx="1618" cy="1415" r="19"/></g><g id="A-e17"><circle class="r" cx="1745" cy="1468" r="19"/></g><g id="A-e18"><circle class="r" cx="1447" cy="1510" r="19"/></g><g id="A-e19"><circle class="r" cx="1670" cy="1522" r="19"/></g><g id="A-e20"><circle class="r" cx="718" cy="1532" r="19"/></g><g id="A-e21"><circle class="b" cx="300" cy="1572" r="19"/></g><g id="A-e22"><circle class="b" cx="185" cy="1598" r="19"/></g><g id="A-e23"><circle class="b" cx="398" cy="1653" r="19"/></g><g id="A-e24"><circle class="r" cx="481" cy="1744" r="19"/></g><g id="A-e25"><circle class="b" cx="733" cy="1676" r="19"/></g><g id="A-e26"><circle class="r" cx="1670" cy="1656" r="19"/></g>
<g id="A-t1"><circle class="r" cx="632" cy="1771" r="19"/></g><g id="A-t2"><circle class="r" cx="747" cy="1794" r="19"/></g><g id="A-t3"><circle class="r" cx="672" cy="1882" r="19"/></g>
<g id="A-p1"><circle class="b" cx="860" cy="1771" r="19"/></g><g id="A-q1"><circle class="r" cx="858" cy="1884" r="19"/></g><g id="A-p2"><circle class="r" cx="975" cy="1771" r="19"/></g><g id="A-q2"><circle class="b" cx="971" cy="1884" r="19"/></g><g id="A-p3"><circle class="b" cx="1088" cy="1771" r="19"/></g><g id="A-q3"><circle class="b" cx="1084" cy="1884" r="19"/></g><g id="A-p4"><circle class="r" cx="1201" cy="1771" r="19"/></g><g id="A-q4"><circle class="r" cx="1197" cy="1884" r="19"/></g><g id="A-p5"><circle class="r" cx="1314" cy="1771" r="19"/></g><g id="A-q5"><circle class="b" cx="1310" cy="1884" r="19"/></g><g id="A-p6"><circle class="r" cx="1427" cy="1771" r="19"/></g><g id="A-q6"><circle class="r" cx="1423" cy="1884" r="19"/></g>
</g>
<g id="connectors-B" class="eb">
<line x1="2168" y1="394" x2="2204" y2="504"/><line x1="2082" y1="512" x2="2204" y2="504"/><line x1="2082" y1="512" x2="2168" y2="394"/><line x1="2349" y1="393" x2="2464" y2="372"/><line x1="2349" y1="393" x2="2565" y2="430"/><line x1="2349" y1="393" x2="2604" y2="539"/><line x1="2464" y1="372" x2="2565" y2="430"/><line x1="2464" y1="372" x2="2604" y2="539"/><line x1="2464" y1="372" x2="2564" y2="650"/><line x1="2464" y1="372" x2="2287" y2="503"/><line x1="2349" y1="393" x2="2287" y2="503"/><line x1="2565" y1="430" x2="2604" y2="539"/><line x1="2287" y1="503" x2="2604" y2="539"/><line x1="2287" y1="503" x2="2388" y2="575"/><line x1="2204" y1="504" x2="2287" y2="503"/><line x1="2388" y1="575" x2="2105" y2="639"/><line x1="2388" y1="575" x2="2220" y2="662"/><line x1="2388" y1="575" x2="2211" y2="794"/><line x1="2105" y1="639" x2="2220" y2="662"/><line x1="2105" y1="639" x2="2211" y2="794"/><line x1="2220" y1="662" x2="2211" y2="794"/><line x1="2337" y1="700" x2="2462" y2="735"/><line x1="2337" y1="700" x2="2564" y2="650"/><line x1="2462" y1="735" x2="2564" y2="650"/><line x1="2564" y1="650" x2="2682" y2="638"/><line x1="2682" y1="638" x2="2759" y2="522"/><line x1="2682" y1="638" x2="2728" y2="729"/><line x1="2759" y1="522" x2="2860" y2="596"/><line x1="2759" y1="522" x2="2728" y2="729"/><line x1="2759" y1="522" x2="2848" y2="727"/><line x1="2860" y1="596" x2="2728" y2="729"/><line x1="2728" y1="729" x2="2848" y2="727"/><line x1="2682" y1="638" x2="2848" y2="727"/>
<line x1="3457" y1="379" x2="3314" y2="408"/><line x1="3457" y1="379" x2="3587" y2="455"/><line x1="3457" y1="379" x2="3228" y2="534"/><line x1="3457" y1="379" x2="3353" y2="559"/><line x1="3457" y1="379" x2="3483" y2="542"/><line x1="3457" y1="379" x2="3612" y2="617"/><line x1="3457" y1="379" x2="3278" y2="689"/><line x1="3457" y1="379" x2="3397" y2="745"/><line x1="3457" y1="379" x2="3530" y2="736"/><line x1="3314" y1="408" x2="3587" y2="455"/><line x1="3314" y1="408" x2="3228" y2="534"/><line x1="3314" y1="408" x2="3353" y2="559"/><line x1="3314" y1="408" x2="3483" y2="542"/><line x1="3314" y1="408" x2="3612" y2="617"/><line x1="3314" y1="408" x2="3278" y2="689"/><line x1="3314" y1="408" x2="3397" y2="745"/><line x1="3314" y1="408" x2="3530" y2="736"/><line x1="3587" y1="455" x2="3228" y2="534"/><line x1="3587" y1="455" x2="3353" y2="559"/><line x1="3587" y1="455" x2="3483" y2="542"/><line x1="3587" y1="455" x2="3612" y2="617"/><line x1="3587" y1="455" x2="3278" y2="689"/><line x1="3587" y1="455" x2="3397" y2="745"/><line x1="3587" y1="455" x2="3530" y2="736"/><line x1="3228" y1="534" x2="3353" y2="559"/><line x1="3228" y1="534" x2="3483" y2="542"/><line x1="3228" y1="534" x2="3612" y2="617"/><line x1="3228" y1="534" x2="3278" y2="689"/><line x1="3228" y1="534" x2="3397" y2="745"/><line x1="3228" y1="534" x2="3530" y2="736"/><line x1="3353" y1="559" x2="3483" y2="542"/><line x1="3353" y1="559" x2="3612" y2="617"/><line x1="3353" y1="559" x2="3278" y2="689"/><line x1="3353" y1="559" x2="3397" y2="745"/><line x1="3353" y1="559" x2="3530" y2="736"/><line x1="3483" y1="542" x2="3612" y2="617"/><line x1="3483" y1="542" x2="3278" y2="689"/><line x1="3483" y1="542" x2="3397" y2="745"/><line x1="3483" y1="542" x2="3530" y2="736"/><line x1="3612" y1="617" x2="3278" y2="689"/><line x1="3612" y1="617" x2="3397" y2="745"/><line x1="3612" y1="617" x2="3530" y2="736"/><line x1="3278" y1="689" x2="3397" y2="745"/><line x1="3278" y1="689" x2="3530" y2="736"/><line x1="3397" y1="745" x2="3530" y2="736"/>
<line x1="2322" y1="1049" x2="2461" y2="1103"/><line x1="2322" y1="1049" x2="2190" y2="1124"/><line x1="2322" y1="1049" x2="2502" y2="1246"/><line x1="2322" y1="1049" x2="2167" y2="1264"/><line x1="2322" y1="1049" x2="2271" y2="1379"/><line x1="2322" y1="1049" x2="2413" y2="1371"/><line x1="2461" y1="1103" x2="2190" y2="1124"/><line x1="2461" y1="1103" x2="2502" y2="1246"/><line x1="2461" y1="1103" x2="2167" y2="1264"/><line x1="2461" y1="1103" x2="2271" y2="1379"/><line x1="2461" y1="1103" x2="2413" y2="1371"/><line x1="2190" y1="1124" x2="2502" y2="1246"/><line x1="2190" y1="1124" x2="2167" y2="1264"/><line x1="2190" y1="1124" x2="2271" y2="1379"/><line x1="2190" y1="1124" x2="2413" y2="1371"/><line x1="2502" y1="1246" x2="2167" y2="1264"/><line x1="2502" y1="1246" x2="2271" y2="1379"/><line x1="2502" y1="1246" x2="2413" y2="1371"/><line x1="2167" y1="1264" x2="2271" y2="1379"/><line x1="2167" y1="1264" x2="2413" y2="1371"/><line x1="2271" y1="1379" x2="2413" y2="1371"/>
<line x1="2873" y1="1050" x2="3046" y2="1049"/><line x1="2873" y1="1050" x2="2778" y2="1193"/><line x1="2873" y1="1050" x2="2976" y2="1226"/><line x1="2873" y1="1050" x2="3144" y2="1216"/><line x1="2873" y1="1050" x2="2838" y2="1349"/><line x1="2873" y1="1050" x2="3028" y2="1382"/><line x1="3046" y1="1049" x2="2778" y2="1193"/><line x1="3046" y1="1049" x2="2976" y2="1226"/><line x1="3046" y1="1049" x2="3144" y2="1216"/><line x1="3046" y1="1049" x2="2838" y2="1349"/><line x1="3046" y1="1049" x2="3028" y2="1382"/><line x1="2778" y1="1193" x2="2976" y2="1226"/><line x1="2778" y1="1193" x2="3144" y2="1216"/><line x1="2778" y1="1193" x2="2838" y2="1349"/><line x1="2778" y1="1193" x2="3028" y2="1382"/><line x1="2976" y1="1226" x2="3144" y2="1216"/><line x1="2976" y1="1226" x2="2838" y2="1349"/><line x1="2976" y1="1226" x2="3028" y2="1382"/><line x1="3144" y1="1216" x2="2838" y2="1349"/><line x1="3144" y1="1216" x2="3028" y2="1382"/><line x1="2838" y1="1349" x2="3028" y2="1382"/>
<line x1="3421" y1="1076" x2="3620" y2="1061"/><line x1="3421" y1="1076" x2="3691" y2="1242"/><line x1="3421" y1="1076" x2="3376" y2="1271"/><line x1="3421" y1="1076" x2="3544" y2="1368"/><line x1="3620" y1="1061" x2="3691" y2="1242"/><line x1="3620" y1="1061" x2="3376" y2="1271"/><line x1="3620" y1="1061" x2="3544" y2="1368"/><line x1="3691" y1="1242" x2="3376" y2="1271"/><line x1="3691" y1="1242" x2="3544" y2="1368"/><line x1="3376" y1="1271" x2="3544" y2="1368"/>
</g>
<g id="module1">
<g id="PDK4"><circle class="bb" cx="2168" cy="394" r="43"/><text class="lb" x="2168" y="345">PDK4</text></g>
<g id="OXCT1"><circle class="rb" cx="2349" cy="393" r="43"/><text class="lb" x="2349" y="345">OXCT1</text></g>
<g id="HMGCL"><circle class="rb" cx="2464" cy="372" r="43"/><text class="lb" x="2464" y="325">HMGCL</text></g>
<g id="OXCT2"><circle class="bb" cx="2565" cy="430" r="43"/><text class="lb" x="2565" y="382">OXCT2</text></g>
<g id="PDK3"><circle class="rb" cx="2082" cy="512" r="43"/><text class="lb" x="2082" y="462">PDK3</text></g>
<g id="PDHB"><circle class="rb" cx="2204" cy="504" r="43"/><text class="lb" x="2204" y="455">PDHB</text></g>
<g id="SUCLA2"><circle class="rb" cx="2287" cy="503" r="43"/><text class="lb" x="2287" y="455">SUCLA2</text></g>
<g id="ACAT1"><circle class="rb" cx="2604" cy="539" r="43"/><text class="lb" x="2605" y="490">ACAT1</text></g>
<g id="YWHAZ"><circle class="bb" cx="2759" cy="522" r="43"/><text class="lb" x="2759" y="473">YWHAZ</text></g>
<g id="NDUFS2"><circle class="rb" cx="2388" cy="575" r="43"/><text class="lb" x="2389" y="526">NDUFS2</text></g>
<g id="DDIT4"><circle class="bb" cx="2860" cy="596" r="43"/><text class="lb" x="2860" y="548">DDIT4</text></g>
<g id="NDUFA8"><circle class="rb" cx="2105" cy="639" r="43"/><text class="lb" x="2105" y="589">NDUFA8</text></g>
<g id="NDUFB5"><circle class="rb" cx="2220" cy="662" r="43"/><text class="lb" x="2221" y="613">NDUFB5</text></g>
<g id="PRDX"><circle class="bb" cx="2462" cy="735" r="43"/><text class="lb" x="2462" y="687">PRDX</text></g>
<g id="CAT"><circle class="rb" cx="2564" cy="650" r="43"/><text class="lb" x="2564" y="602">CAT</text></g>
<g id="FOXO3"><circle class="bb" cx="2682" cy="638" r="43"/><text class="lb" x="2682" y="589">FOXO3</text></g>
<g id="PRDX3"><circle class="rb" cx="2337" cy="700" r="43"/><text class="lb" x="2338" y="651">PRDX3</text></g>
<g id="YWHAH"><circle class="bb" cx="2728" cy="729" r="43"/><text class="lb" x="2728" y="681">YWHAH</text></g>
<g id="YWHAQ"><circle class="rb" cx="2848" cy="727" r="43"/><text class="lb" x="2848" y="681">YWHAQ</text></g>
<g id="TMEM126B"><circle class="rb" cx="2211" cy="794" r="43"/><text class="lb" x="2213" y="745">TMEM126B</text></g>
<text class="cap" x="2469" y="891">Module 1: Mitochondrial respiratory</text>
<text class="cap" x="2467" y="943">chain complex I assembly</text>
</g>
<g id="module2">
<g id="MRPS6"><circle class="bb" cx="3457" cy="379" r="43"/><text class="lb" x="3457" y="331">MRPS6</text></g>
<g id="OXA1L"><circle class="rb" cx="3314" cy="408" r="43"/><text class="lb" x="3315" y="360">OXA1L</text></g>
<g id="MRPL46"><circle class="rb" cx="3587" cy="455" r="43"/><text class="lb" x="3587" y="407">MRPL46</text></g>
<g id="MRPL40"><circle class="rb" cx="3228" cy="534" r="43"/><text class="lb" x="3231" y="486">MRPL40</text></g>
<g id="MRPL53"><circle class="rb" cx="3483" cy="542" r="43"/><text class="lb" x="3471" y="495">MRPL53</text></g>
<g id="MRPS36"><circle class="rb" cx="3353" cy="559" r="43"/><text class="lb" x="3354" y="512">MRPS36</text></g>
<g id="MRPS16"><circle class="bb" cx="3612" cy="617" r="43"/><text class="lb" x="3612" y="568">MRPS16</text></g>
<g id="GFM2"><circle class="rb" cx="3278" cy="689" r="43"/><text class="lb" x="3278" y="642">GFM2</text></g>
<g id="MRPL1"><circle class="rb" cx="3397" cy="745" r="43"/><text class="lb" x="3397" y="697">MRPL1</text></g>
<g id="MRPL35"><circle class="rb" cx="3530" cy="736" r="43"/><text class="lb" x="3532" y="687">MRPL35</text></g>
<text class="cap" x="3511" y="891">Module 2: Mitochondrial translation</text>
</g>
<g id="module3">
<g id="ACLY"><circle class="bb" cx="2322" cy="1049" r="43"/><text class="lb" x="2324" y="1000">ACLY</text></g>
<g id="PYCARD"><circle class="bb" cx="2461" cy="1103" r="43"/><text class="lb" x="2463" y="1054">PYCARD</text></g>
<g id="PRDX6"><circle class="bb" cx="2190" cy="1124" r="43"/><text class="lb" x="2192" y="1074">PRDX6</text></g>
<g id="HEBP2"><circle class="rb" cx="2502" cy="1246" r="43"/><text class="lb" x="2503" y="1198">HEBP2</text></g>
<g id="FTL"><circle class="bb" cx="2167" cy="1264" r="43"/><text class="lb" x="2169" y="1215">FTL</text></g>
<g id="ANXA2"><circle class="bb" cx="2271" cy="1379" r="43"/><text class="lb" x="2272" y="1329">ANXA2</text></g>
<g id="TUBB"><circle class="bb" cx="2413" cy="1371" r="43"/><text class="lb" x="2417" y="1321">TUBB</text></g>
<text class="cap" x="2290" y="1553">Module 3</text>
</g>
<g id="module4">
<g id="RPN1"><circle class="bb" cx="2873" cy="1050" r="43"/><text class="lb" x="2875" y="1002">RPN1</text></g>
<g id="RPLP0"><circle class="bb" cx="3046" cy="1049" r="43"/><text class="lb" x="3048" y="1001">RPLP0</text></g>
<g id="SRPRB"><circle class="bb" cx="2778" cy="1193" r="43"/><text class="lb" x="2780" y="1142">SRPRB</text></g>
<g id="RPN2"><circle class="bb" cx="2976" cy="1226" r="43"/><text class="lb" x="2979" y="1178">RPN2</text></g>
<g id="RPL34"><circle class="bb" cx="3144" cy="1216" r="43"/><text class="lb" x="3147" y="1166">RPL34</text></g>
<g id="DDOST"><circle class="bb" cx="2838" cy="1349" r="43"/><text class="lb" x="2841" y="1303">DDOST</text></g>
<g id="SPCS2"><circle class="bb" cx="3028" cy="1382" r="43"/><text class="lb" x="3030" y="1334">SPCS2</text></g>
<text class="cap" x="3008" y="1555">Module 4: Protein N-linked</text>
<text class="cap" x="3008" y="1610">glycosylation via asparagine</text>
</g>
<g id="module5">
<g id="MTHFD2"><circle class="bb" cx="3421" cy="1076" r="43"/><text class="lb" x="3422" y="1028">MTHFD2</text></g>
<g id="MTHFD1L"><circle class="bb" cx="3620" cy="1061" r="43"/><text class="lb" x="3622" y="1011">MTHFD1L</text></g>
<g id="AMT"><circle class="rb" cx="3691" cy="1242" r="43"/><text class="lb" x="3692" y="1192">AMT</text></g>
<g id="MTHFD2L"><circle class="rb" cx="3376" cy="1271" r="43"/><text class="lb" x="3379" y="1224">MTHFD2L</text></g>
<g id="SHMT2"><circle class="bb" cx="3544" cy="1368" r="43"/><text class="lb" x="3546" y="1317">SHMT2</text></g>
<text class="cap" x="3598" y="1555">Module 5: folic acid-containing</text>
<text class="cap" x="3590" y="1610">compound biosynthetic process</text>
</g>
</svg>
